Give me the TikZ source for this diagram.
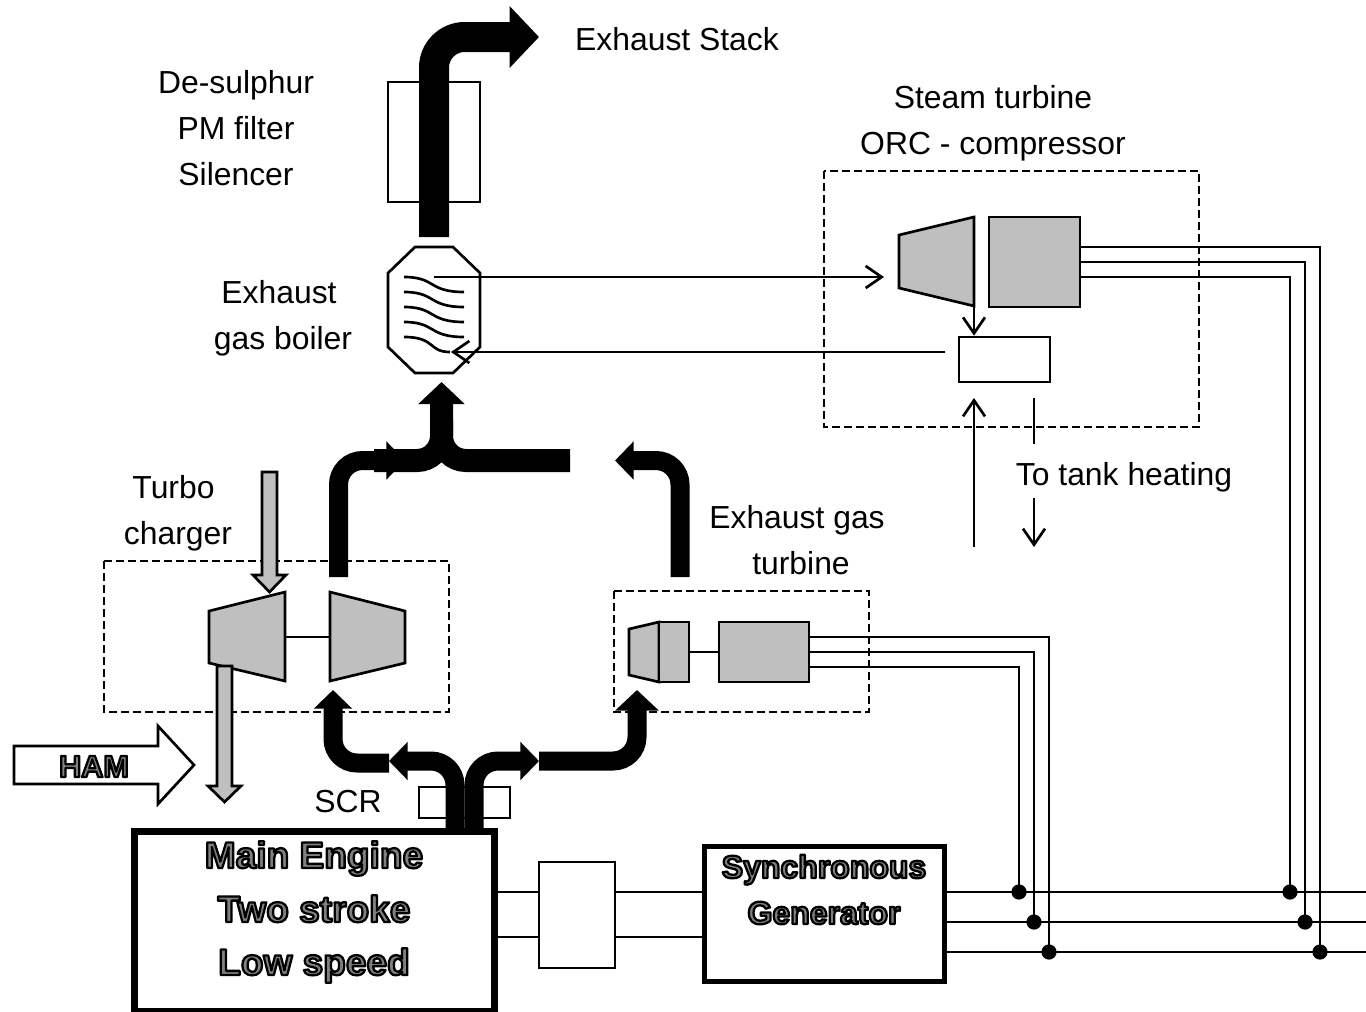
\documentclass[tikz,border=0pt]{standalone}
\usepackage{fontspec}
\setmainfont{Liberation Sans}
\usetikzlibrary{arrows.meta,calc}
\definecolor{machinegrey}{RGB}{191,191,191}
\newcommand{\hollow}[1]{\special{pdf:code q 2 Tr 1.7 w 1 j 0.5 g 0 G}#1\special{pdf:code Q}}
\tikzset{
  labeltext/.style={font=\fontsize{23.9pt}{34.5pt}\selectfont,inner sep=0pt,align=center},
  boldtext/.style={font=\fontsize{#1pt}{1.2em}\selectfont\bfseries,inner sep=0pt,align=center,anchor=base},
  boldtext/.default=27.8,
  plainbox/.style={draw,line width=2pt,fill=white,inner sep=0pt},
  greybox/.style={draw,line width=2pt,fill=machinegrey,inner sep=0pt,line join=miter},
  heavybox/.style={draw,line width=#1,fill=white,inner sep=0pt},
  casing/.style={draw,dash pattern=on 6pt off 3pt,line width=1.7pt},
  wire/.style={line width=2pt},
  flow/.style={line width=2pt,-{Straight Barb[length=12pt,width=16.5pt,line width=2pt]}},
  pipe/.style={line width=14.25pt,rounded corners=18pt},
  pipehead/.style={-{Triangle[length=14pt,width=28pt]}},
  busdot/.style={circle,fill,inner sep=0pt,minimum size=11.4pt},
}
\begin{document}
\begin{tikzpicture}[x=0.75pt,y=-0.75pt]
  \useasboundingbox (0,0) rectangle (1366,1011);

  % stack and boiler
  \node[plainbox,minimum width=69pt,minimum height=90pt] (filter) at (434,142) {};
  \draw[line width=2pt,fill=white] (415,247) -- (453,247) -- (480,273) -- (480,347) -- (453,373) -- (415,373) -- (388,347) -- (388,273) -- cycle;
  \coordinate (stackin) at (434,237);
  \coordinate (stackbend) at (434,37);
  \coordinate (stackout) at (539,37);
  \draw[line width=22.5pt,rounded corners=23pt,-{Triangle[length=22pt,width=45pt]}] (stackin) -- (stackbend) -- (stackout);
  \foreach \yy/\xe in {277/464,292/464,307/464,322/464,337/450}{
    \draw[line width=2pt] (404,\yy) .. controls (436,\yy) and (428,\yy+15) .. (\xe,\yy+15);
  }

  % steam turbine group
  \draw[casing] (824,171) rectangle (1199,427);
  \draw[greybox] (899,235) -- (974,217) -- (974,306) coordinate (stout) -- (899,288) -- cycle;
  \node[greybox,minimum width=68.25pt,minimum height=67.5pt] (steamgen) at (1034.5,262) {};
  \node[plainbox,minimum width=68.25pt,minimum height=33.75pt] (condenser) at (1004.5,359.5) {};
  \coordinate (boilerhot) at (434,277);
  \coordinate (stin) at (884,277);
  \coordinate (condout) at (945,352);
  \coordinate (boilercold) at (451,352);
  \coordinate (tankin) at (974,547);
  \coordinate (tankup) at (974,398);
  \coordinate (tankouta) at (1034,398);
  \coordinate (tankoutb) at (1034,444);
  \coordinate (tankoutc) at (1034,498);
  \coordinate (tankoutd) at (1034,547);
  \draw[flow] (boilerhot) -- (stin);
  \draw[flow] (condout) -- (boilercold);
  \draw[flow] (stout) -- (condenser.north -| stout);
  \draw[flow] (tankin) -- (tankup);
  \draw[wire] (tankouta) -- (tankoutb);
  \draw[flow] (tankoutc) -- (tankoutd);

  % turbo charger
  \draw[casing] (104,561) rectangle (449,712);
  \draw[greybox] (209,611) -- (285,592) -- (285,681) -- (209,663) -- cycle;
  \draw[greybox] (330,592) -- (405,611) -- (405,663) -- (330,681) -- cycle;
  \draw[wire] (285,637) coordinate (compshaft) -- (330,637) coordinate (turbshaft);
  \draw[greybox] (262,472) -- (277,472) -- (277,575) -- (286,575) -- (269.5,592) -- (253,575) -- (262,575) -- cycle;
  \draw[greybox] (217,666) -- (232,666) -- (232,786) -- (241,786) -- (224.5,802) -- (208,786) -- (217,786) -- cycle;

  % exhaust gas turbine
  \draw[casing] (614,591) rectangle (869,712);
  \draw[greybox] (629,629) -- (659,622) -- (659,682) -- (629,675) -- cycle;
  \node[greybox,minimum width=22.5pt,minimum height=45pt] (powerturb) at (674,652) {};
  \node[greybox,minimum width=67.5pt,minimum height=45pt] (powergen) at (764,652) {};
  \draw[wire] (powerturb) -- (powergen);

  % exhaust pipes
  \coordinate (barleft) at (374,460.5);
  \coordinate (barright) at (570,460.5);
  \draw[line width=17.25pt,rounded corners=18.4pt] (barright) -- (441.5,460.5) -- (441.5,420);
  \draw[line width=17.25pt,rounded corners=18.4pt,-{Triangle[length=16.5pt,width=33.75pt]}] (barleft) -- (441.5,460.5) -- (441.5,382);
  \coordinate (turboout) at (338.5,577);
  \coordinate (turbobend) at (338.5,460.5);
  \coordinate (turbotip) at (405,460.5);
  \draw[pipe,pipehead] (turboout) -- (turbobend) -- (turbotip);
  \coordinate (powerout) at (680,577);
  \coordinate (powerbend) at (680,460.5);
  \coordinate (powertip) at (615,460.5);
  \draw[pipe,pipehead] (powerout) -- (powerbend) -- (powertip);

  % engine and generator
  \node[plainbox,minimum width=68.25pt,minimum height=23.25pt] (scr) at (464.5,802.5) {};
  \coordinate (enginegasa) at (455,829);
  \coordinate (enginegasb) at (474,829);
  \draw[pipe,pipehead] (enginegasa) -- (455,761) -- (389,761);
  \draw[pipe,pipehead] (enginegasb) -- (474,761) -- (539,761);
  \draw[pipe,pipehead] (389,763) -- (333,763) -- (333,690);
  \draw[pipe,-{Triangle[length=15.5pt,width=32pt]}] (539,761) -- (637,761) -- (637,690);
  \node[heavybox=5.25pt,minimum width=270pt,minimum height=135pt] (engine) at (314,921.5) {};
  \node[plainbox,minimum width=57pt,minimum height=79.5pt] (coupling) at (577,915) {};
  \node[heavybox=3.75pt,minimum width=180pt,minimum height=101.25pt] (syncgen) at (824.5,914) {};
  \foreach \yy in {892,937}{
    \draw[wire] (engine.east |- 0,\yy) -- (coupling.west |- 0,\yy);
    \draw[wire] (coupling.east |- 0,\yy) -- (syncgen.west |- 0,\yy);
  }

  % three phase lines
  \foreach \yy/\xa/\xb/\ya/\yb in {892/1019/1290/667/277,922/1034/1305/652/262,952/1049/1320/637/247}{
    \draw[wire] (syncgen.east |- 0,\yy) -- (1366,\yy);
    \draw[wire] (powergen.east |- 0,\ya) -- (\xa,\ya) -- (\xa,\yy);
    \draw[wire] (steamgen.east |- 0,\yb) -- (\xb,\yb) -- (\xb,\yy);
    \node[busdot] (dot\xa) at (\xa,\yy) {};
    \node[busdot] (dot\xb) at (\xb,\yy) {};
  }

  % air inlet
  \draw[line width=2pt,fill=white] (14,746) -- (158,746) -- (158,726) -- (194,765) -- (158,804) -- (158,784) -- (14,784) -- cycle;

  % labels
  \node[labeltext] (stacklabel) at (677,39) {Exhaust Stack};
  \node[labeltext] (filterlabel) at (236,128) {De-sulphur\\PM filter\\Silencer};
  \node[labeltext] (boilerlabela) at (279,292) {Exhaust};
  \node[labeltext] (boilerlabelb) at (283,341) {gas boiler};
  \node[labeltext] (orclabel) at (993,123) {Steam turbine\\ORC - compressor};
  \node[labeltext] (tanklabel) at (1124,477) {To tank heating};
  \node[labeltext] (turbolabela) at (173.5,487) {Turbo};
  \node[labeltext] (turbolabelb) at (178,536) {charger};
  \node[labeltext] (gaslabela) at (797,520) {Exhaust gas};
  \node[labeltext] (gaslabelb) at (801,563) {turbine};
  \node[labeltext] (scrlabel) at (348,802) {SCR};
  \node[boldtext=23] (hamlabel) at (94,777) {\hollow{HAM}};
  \node[boldtext] (enginea) at (314,868) {\hollow{Main Engine}};
  \node[boldtext] (engineb) at (314,922) {\hollow{Two stroke}};
  \node[boldtext] (enginec) at (314,975) {\hollow{Low speed}};
  \node[boldtext=24] (synca) at (824,878) {\hollow{Synchronous}};
  \node[boldtext=24] (syncb) at (824,924) {\hollow{Generator}};
\end{tikzpicture}
\end{document}
